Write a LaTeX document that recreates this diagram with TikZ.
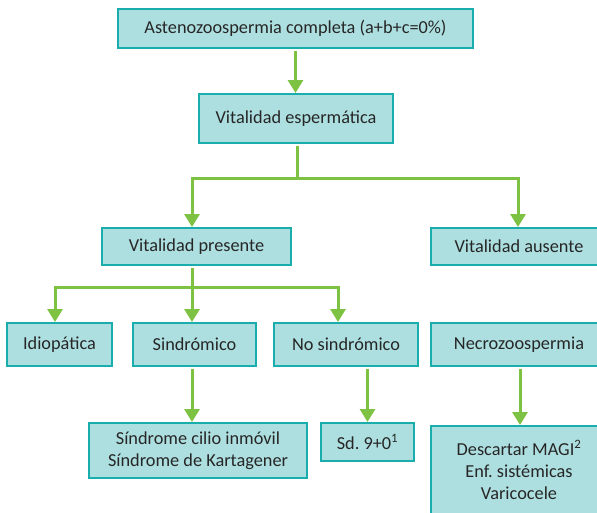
\documentclass[tikz,border=0pt]{standalone}
\usepackage{fontspec}
\setmainfont{Carlito}
\usetikzlibrary{arrows.meta}
\definecolor{boxfill}{HTML}{AEDFE0}
\definecolor{boxline}{HTML}{19AEAD}
\definecolor{linkgreen}{HTML}{7DC242}
\definecolor{txt}{HTML}{262626}
\frenchspacing
\begin{document}
\begin{tikzpicture}[x=1pt,y=-1pt,
  >={Triangle[width=15pt,length=13pt]},
  box/.style={draw=boxline,fill=boxfill,line width=2pt,inner sep=0pt,
    text=txt,font=\fontsize{18.3}{22}\selectfont,align=center},
  link/.style={draw=linkgreen,line width=3pt},
  arrowlink/.style={link,->,shorten <=2pt},
  stem/.style={link,line cap=rect,shorten <=3.5pt}]
\useasboundingbox (0,0) rectangle (597,512);
\clip (0,0) rectangle (597,512);

% boxes
\node[box,minimum width=355pt,minimum height=39pt] (top)  at (295.5,28.5) {Astenozoospermia completa (a+b+c=0\%)};
\node[box,minimum width=194pt,minimum height=49pt] (esp)  at (296,118.5) {Vitalidad espermática};
\node[box,minimum width=189pt,minimum height=37pt] (pres) at (196.5,246.5) {Vitalidad presente};
\node[box,minimum width=176pt,minimum height=37pt] (aus)  at (519,246.5) {Vitalidad ausente};
\node[box,minimum width=105pt,minimum height=43pt] (idio) at (59.5,344.5) {Idiopática};
\node[box,minimum width=123pt,minimum height=43pt] (sind) at (194.5,344.5) {Sindrómico};
\node[box,minimum width=144pt,minimum height=43pt] (nos)  at (346,344.5) {No sindrómico};
\node[box,minimum width=176pt,minimum height=43pt] (necro) at (519,344.5) {Necrozoospermia};
\node[box,minimum width=218pt,minimum height=55pt] (cilio) at (198,450.5) {Síndrome cilio inmóvil\\Síndrome de Kartagener};
\node[box,minimum width=93pt,minimum height=38pt] (sd)   at (367.5,442) {Sd. 9+0\textsuperscript{1}};
\node[box,minimum width=176pt,minimum height=88pt] (desc) at (519,470) {Descartar MAGI\textsuperscript{2}\\Enf. sistémicas\\Varicocele};

% junction points of the branching connectors
\coordinate (j1) at (297,178);
\coordinate (j2) at (192,287);

% connectors
\draw[arrowlink] (top.south) -- (top.south |- esp.north);
\draw[stem] (esp.south -| j1) -- (j1);
\draw[link,<->] ([xshift=-4.5pt]pres.north) |- (j1) -| ([xshift=-1pt]aus.north);
\draw[stem] (pres.south -| j2) -- (j2);
\draw[link,<->] ([xshift=-4.5pt]idio.north) |- (j2) -| ([xshift=-8pt]nos.north);
\draw[arrowlink] (j2) -- (j2 |- sind.north);
\draw[arrowlink] (sind.south -| j2) -- (j2 |- cilio.north);
\draw[arrowlink] (nos.south -| sd.north) -- (sd.north);
\draw[arrowlink] ([xshift=1pt]necro.south) -- ([xshift=1pt]necro.south |- desc.north);
\end{tikzpicture}
\end{document}
